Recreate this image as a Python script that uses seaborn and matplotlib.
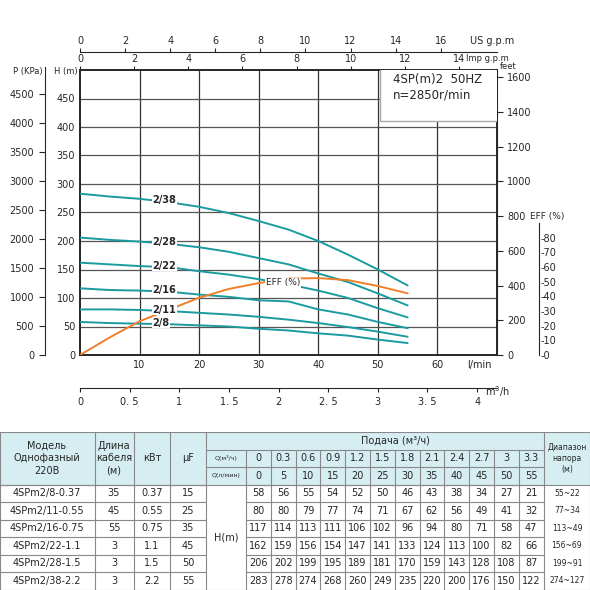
import matplotlib.pyplot as plt
import matplotlib.patches as mpatches
import numpy as np
import pandas as pd
import seaborn as sns

sns.set_style("ticks")
plt.rcParams['font.family'] = ['DejaVu Sans']

# flow points from the table
q_m3h = [0, 0.3, 0.6, 0.9, 1.2, 1.5, 1.8, 2.1, 2.4, 2.7, 3, 3.3]
q_lmin = [0, 5, 10, 15, 20, 25, 30, 35, 40, 45, 50, 55]

models = ["4SPm2/8-0.37", "4SPm2/11-0.55", "4SPm2/16-0.75",
          "4SPm2/22-1.1", "4SPm2/28-1.5", "4SPm2/38-2.2"]
curve_names = ["2/8", "2/11", "2/16", "2/22", "2/28", "2/38"]
cable = ["35", "45", "55", "3", "3", "3"]
kw = ["0.37", "0.55", "0.75", "1.1", "1.5", "2.2"]
uf = ["15", "25", "35", "45", "50", "55"]
head_range = ["55~22", "77~34", "113~49", "156~69", "199~91", "274~127"]

head_8 = [58, 56, 55, 54, 52, 50, 46, 43, 38, 34, 27, 21]
head_11 = [80, 80, 79, 77, 74, 71, 67, 62, 56, 49, 41, 32]
head_16 = [117, 114, 113, 111, 106, 102, 96, 94, 80, 71, 58, 47]
head_22 = [162, 159, 156, 154, 147, 141, 133, 124, 113, 100, 82, 66]
head_28 = [206, 202, 199, 195, 189, 181, 170, 159, 143, 128, 108, 87]
head_38 = [283, 278, 274, 268, 260, 249, 235, 220, 200, 176, 150, 122]
heads = [head_8, head_11, head_16, head_22, head_28, head_38]

# efficiency curve (%)
eff_q = [0, 5, 10, 15, 20, 25, 30, 35, 40, 45, 50, 55]
eff_pct = [0, 12, 23, 31, 39, 45, 49, 52, 52.4, 51, 47, 42]

teal = "#1a9ba0"
orange = "#f07f2a"
H_PER_EFF = 2.575  # metres of head per 1 % on the drawing

fig = plt.figure(figsize=(5.9, 5.9), dpi=100)
ax = fig.add_axes([80 / 590, 1 - 355 / 590, 417 / 590, 285 / 590])
ax.set_xlim(0, 70)
ax.set_ylim(0, 500)

for x in range(10, 70, 10):
    ax.axvline(x, color="#333333", lw=0.9, zorder=1)
for y in range(50, 500, 50):
    ax.axhline(y, color="#555555", lw=0.9, zorder=1)

for name, h in zip(curve_names, heads):
    df = pd.DataFrame({"q": q_lmin, "h": h})
    sns.lineplot(data=df, x="q", y="h", ax=ax, color=teal, lw=1.4, zorder=3)
    ax.text(12.2, np.interp(14, q_lmin, h) + 2, name, fontsize=7, fontweight="bold",
            ha="left", va="center", zorder=5,
            bbox=dict(facecolor="white", edgecolor="none", pad=0.3))

eff_df = pd.DataFrame({"q": eff_q, "h": np.array(eff_pct) * H_PER_EFF})
sns.lineplot(data=eff_df, x="q", y="h", ax=ax, color=orange, lw=1.4, zorder=4)
ax.text(31.2, 127, "EFF (%)", fontsize=6.5, ha="left", va="center", zorder=5,
        bbox=dict(facecolor="white", edgecolor="none", pad=0.3))

ax.add_patch(mpatches.Rectangle((50.4, 410), 20, 95, facecolor="white",
                                edgecolor="#aaaaaa", lw=1, zorder=4, clip_on=True))
ax.text(52.5, 470, "4SP(m)2  50HZ\nn=2850r/min", fontsize=8.5, va="center", zorder=6)

ax.set_xlabel("")
ax.set_ylabel("")
ax.set_xticks(range(10, 70, 10))
ax.set_yticks(range(0, 500, 50))
ax.tick_params(labelsize=7, length=0)
ax.yaxis.set_ticks_position("none")
for s in ax.spines.values():
    s.set_linewidth(1.4)
ax.text(-0.4, 497, "H (m)", fontsize=6, ha="right", va="center", clip_on=False)
ax.text(65, -18, "l/min", fontsize=7, ha="left", va="center", clip_on=False)

# m3/h axis below
sec_m3 = ax.secondary_xaxis(-0.115, functions=(lambda x: x * 0.06, lambda x: x / 0.06))
sec_m3.set_xticks([0, 0.5, 1, 1.5, 2, 2.5, 3, 3.5, 4])
sec_m3.set_xticklabels(["0", "0. 5", "1", "1. 5", "2", "2. 5", "3", "3. 5", "4"])
sec_m3.tick_params(labelsize=7, length=3)
ax.text(68, -65, "m$^3$/h", fontsize=7, ha="left", va="center", clip_on=False)

# Imp gpm on top spine
sec_imp = ax.secondary_xaxis("top", functions=(lambda x: x / 4.546, lambda x: x * 4.546))
sec_imp.set_xticks(range(0, 16, 2))
sec_imp.tick_params(labelsize=7, length=3, pad=1)
sec_imp.spines["top"].set_visible(False)
ax.text(64.8, 512, "Imp g.p.m", fontsize=6, ha="left", va="bottom", clip_on=False)

# US gpm higher up
sec_us = ax.secondary_xaxis(1.063, functions=(lambda x: x / 3.785, lambda x: x * 3.785))
sec_us.set_xticks(range(0, 18, 2))
sec_us.tick_params(labelsize=7, length=3, pad=1)
ax.text(65.5, 542, "US g.p.m", fontsize=7, ha="left", va="bottom", clip_on=False)

# feet on the right
sec_ft = ax.secondary_yaxis("right", functions=(lambda h: h * 3.281, lambda f: f / 3.281))
sec_ft.set_yticks(range(0, 1800, 200))
sec_ft.tick_params(labelsize=7, length=4)
ax.text(70.4, 499, "feet", fontsize=6, ha="left", va="bottom", clip_on=False)

# P (KPa) on the left
sec_p = ax.secondary_yaxis(-0.085, functions=(lambda h: h * 9.81, lambda p: p / 9.81))
sec_p.set_yticks(range(0, 5000, 500))
sec_p.tick_params(labelsize=7, length=4)
sec_p.spines["left"].set_bounds(0, 4950)
ax.text(-6.3, 497, "P (KPa)", fontsize=6, ha="right", va="center", clip_on=False)

# EFF scale
sec_e = ax.secondary_yaxis(1.1, functions=(lambda h: h / H_PER_EFF, lambda e: e * H_PER_EFF))
sec_e.set_yticks(range(0, 90, 10))
sec_e.set_yticklabels(["-" + str(v) for v in range(0, 90, 10)])
sec_e.tick_params(labelsize=7, length=0, pad=1)
sec_e.spines["right"].set_bounds(0, 90)
ax.text(75.6, 235, "EFF (%)", fontsize=6.5, ha="left", va="bottom", clip_on=False)

# table
tb = fig.add_axes([0, 0, 1, 158 / 590])
tb.set_xlim(0, 590)
tb.set_ylim(590, 432)
tb.axis("off")
cols = [0, 95, 134, 170, 206, 246] + [246 + 24.8 * (i + 1) for i in range(12)] + [590]
rh = 17.5
rows = [432 + rh * i for i in range(10)]
hdr = "#d6eef2"
line = "#888888"
tb.add_patch(mpatches.Rectangle((0, rows[0]), 590, 3 * rh, facecolor=hdr, edgecolor="none"))

def vline(x, y0, y1):
    tb.plot([x, x], [y0, y1], color=line, lw=0.8)

def hline(x0, x1, y):
    tb.plot([x0, x1], [y, y], color=line, lw=0.8)

hline(0, 590, rows[0])
hline(0, 590, rows[9])
for r in rows[3:9]:
    hline(0, 206, r)
    hline(246, 544, r)
hline(0, 590, rows[3])
hline(206, 544, rows[1])
hline(206, 544, rows[2])
for x in [0, 95, 134, 170, 206, 544, 590]:
    vline(x, rows[0], rows[9])
vline(246, rows[1], rows[9])
for x in cols[6:-2]:
    vline(x, rows[1], rows[9])

mid = rows[0] + 1.5 * rh
tb.text(47, mid, "Модель\nОднофазный\n220В", ha="center", va="center", fontsize=7, linespacing=1.3)
tb.text(114, mid, "Длина\nкабеля\n(м)", ha="center", va="center", fontsize=7, linespacing=1.3)
tb.text(152, mid, "кВт", ha="center", va="center", fontsize=7)
tb.text(188, mid, "μF", ha="center", va="center", fontsize=7)
tb.text(395, rows[0] + rh / 2, "Подача (м³/ч)", ha="center", va="center", fontsize=7)
tb.text(226, rows[1] + rh / 2, "Q(м³/ч)", ha="center", va="center", fontsize=4.5)
tb.text(226, rows[2] + rh / 2, "Q(л/мин)", ha="center", va="center", fontsize=4.5)
tb.text(567, mid, "Диапазон\nнапора\n(м)", ha="center", va="center", fontsize=5.5, linespacing=1.3)
tb.text(226, rows[3] + 3 * rh, "H(m)", ha="center", va="center", fontsize=7)

for i in range(12):
    cx = (cols[5 + i] + cols[6 + i]) / 2
    tb.text(cx, rows[1] + rh / 2, str(q_m3h[i]), ha="center", va="center", fontsize=7)
    tb.text(cx, rows[2] + rh / 2, str(q_lmin[i]), ha="center", va="center", fontsize=7)

for j in range(6):
    cy = rows[3 + j] + rh / 2
    tb.text(47, cy, models[j], ha="center", va="center", fontsize=7)
    tb.text(114, cy, cable[j], ha="center", va="center", fontsize=7)
    tb.text(152, cy, kw[j], ha="center", va="center", fontsize=7)
    tb.text(188, cy, uf[j], ha="center", va="center", fontsize=7)
    tb.text(567, cy, head_range[j], ha="center", va="center", fontsize=5.5)
    for i in range(12):
        cx = (cols[5 + i] + cols[6 + i]) / 2
        tb.text(cx, cy, str(heads[j][i]), ha="center", va="center", fontsize=7)

fig.savefig("out.png", dpi=100)
